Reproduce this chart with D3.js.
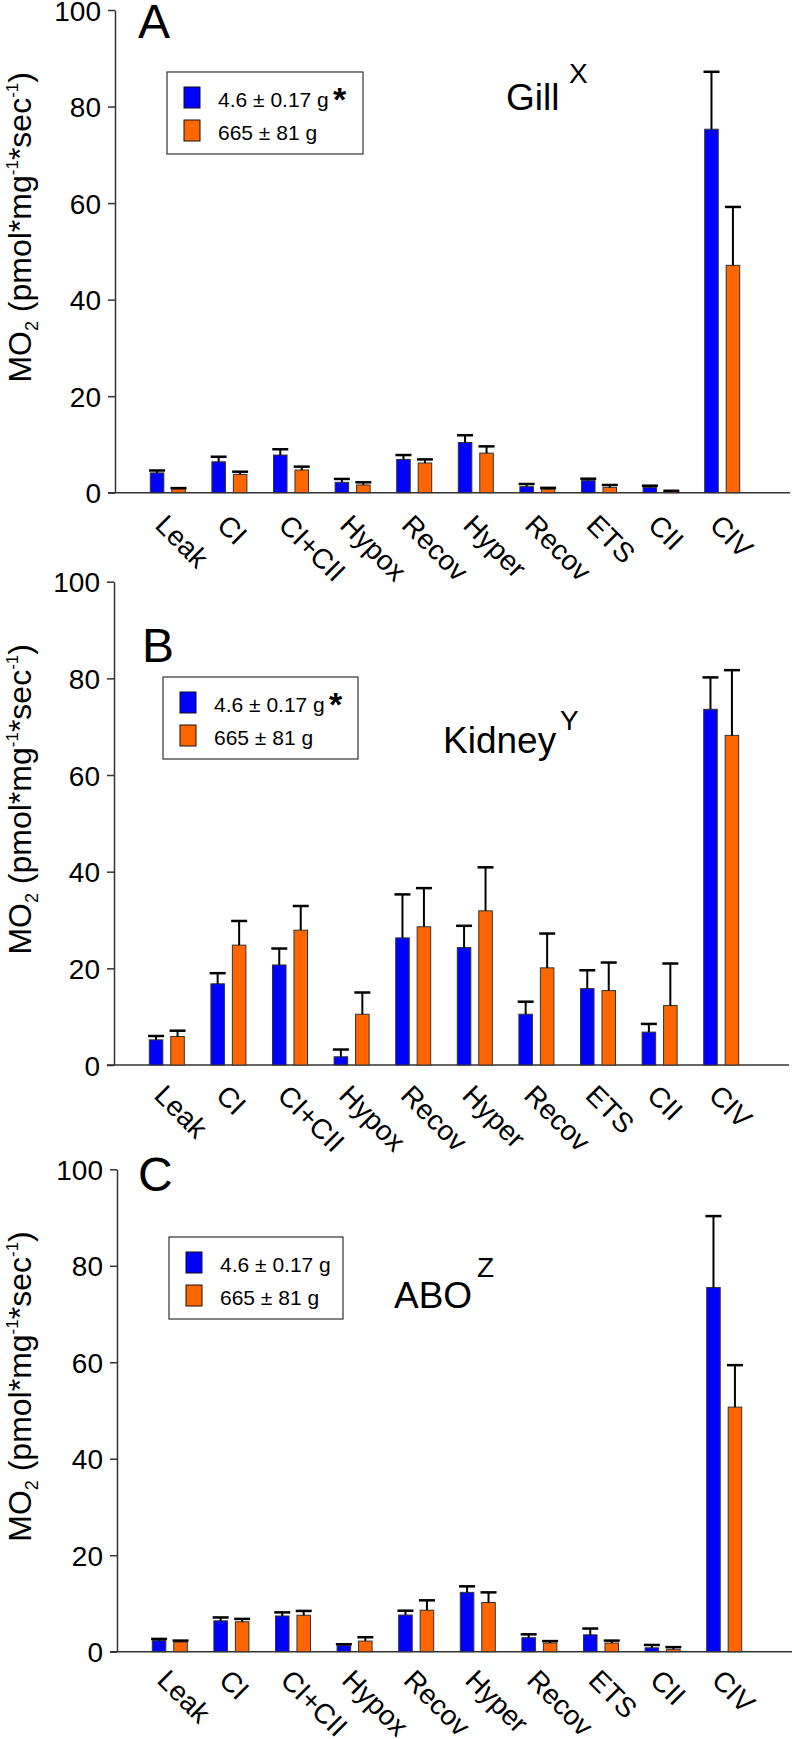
<!DOCTYPE html>
<html>
<head>
<meta charset="utf-8">
<script src="https://cdn.jsdelivr.net/npm/d3@7"></script>
<style>
  body { margin: 0; background: #fff; }
  text { font-family: "Liberation Sans", Arial, sans-serif; fill: #000; }
</style>
</head>
<body>
<div id="chart"></div>
<script>
/* data: mean and SEM for each state */
var categories = ["Leak", "CI", "CI+CII", "Hypox", "Recov", "Hyper", "Recov", "ETS", "CII", "CIV"];
var seriesNames = ["4.6 \u00b1 0.17 g", "665 \u00b1 81 g"];
var yTicks = [0, 20, 40, 60, 80, 100];

var gillSmall     = [4.1, 6.4, 7.8, 2.15, 6.9, 10.4, 1.25, 2.5, 1.1, 75.3];
var gillSmallErr  = [0.5, 1.05, 1.2, 0.7, 0.9, 1.5, 0.55, 0.4, 0.35, 11.9];
var gillLarge     = [0.8, 3.8, 4.7, 1.6, 6.15, 8.2, 0.7, 1.1, 0.3, 47.1];
var gillLargeErr  = [0.15, 0.55, 0.7, 0.55, 0.75, 1.4, 0.3, 0.5, 0.1, 12.1];

var kidneySmall    = [5.2, 16.8, 20.7, 1.7, 26.3, 24.3, 10.5, 15.8, 6.8, 73.6];
var kidneySmallErr = [0.8, 2.2, 3.4, 1.5, 9.0, 4.5, 2.6, 3.8, 1.7, 6.6];
var kidneyLarge    = [5.9, 24.8, 27.9, 10.5, 28.6, 31.9, 20.1, 15.4, 12.3, 68.2];
var kidneyLargeErr = [1.2, 5.0, 5.0, 4.5, 8.0, 9.0, 7.1, 5.8, 8.7, 13.5];

var aboSmall     = [2.3, 6.4, 7.4, 1.25, 7.6, 12.3, 2.9, 3.5, 0.8, 75.5];
var aboSmallErr  = [0.35, 0.7, 0.75, 0.3, 0.9, 1.25, 0.7, 1.3, 0.6, 14.8];
var aboLarge     = [2.0, 6.2, 7.55, 2.2, 8.6, 10.2, 1.8, 1.8, 0.5, 50.7];
var aboLargeErr  = [0.3, 0.6, 0.9, 0.8, 2.05, 2.1, 0.4, 0.5, 0.45, 8.7];

var colors = ["#0000ff", "#ff6600"];

/* layout of the three panels */
var panels = [
    { letter: "A", lx: 138, ly: 38, tissue: "Gill", sup: "X", tx: 506, ty: 110, sx: 569, sy: 83, star: true,
      y0: 492.7, y100: 10, dx: 0, labelDy: 34, box: [167, 72, 196],
      values: [gillSmall, gillLarge], errors: [gillSmallErr, gillLargeErr] },
    { letter: "B", lx: 142, ly: 662, tissue: "Kidney", sup: "Y", tx: 443, ty: 753, sx: 560, sy: 730, star: true,
      y0: 1065, y100: 581.7, dx: -1, labelDy: 32, box: [163, 677, 195],
      values: [kidneySmall, kidneyLarge], errors: [kidneySmallErr, kidneyLargeErr] },
    { letter: "C", lx: 138, ly: 1191, tissue: "ABO", sup: "Z", tx: 394, ty: 1308, sx: 477, sy: 1277, star: false,
      y0: 1651.7, y100: 1169.3, dx: 2, labelDy: 30, box: [169, 1237, 174],
      values: [aboSmall, aboLarge], errors: [aboSmallErr, aboLargeErr] }
];

var width = 793,
    height = 1739;

var svg = d3.select("#chart")
            .append("svg")
            .attr("width", width)
            .attr("height", height);

var drawPanel = function(p) {
    var g = svg.append("g")
               .attr("transform", "translate(" + p.dx + ",0)");

    var y = d3.scaleLinear().domain([0, 100]).range([p.y0, p.y100]);
    var x0 = d3.scaleBand().domain(d3.range(categories.length)).range([137, 753]);
    var x1 = d3.scaleBand().domain([0, 1]).range([-17.5, 17.5]).paddingInner(0.37);

    /* y axis */
    var yAxis = g.append("g")
                 .attr("transform", "translate(115,0)")
                 .call(d3.axisLeft(y).tickValues(yTicks).tickSize(7).tickSizeOuter(0).tickPadding(7));
    yAxis.select(".domain").attr("stroke", "#333").attr("stroke-width", 1.5);
    yAxis.selectAll(".tick line").attr("stroke", "#333").attr("stroke-width", 1.5);
    yAxis.selectAll(".tick text")
         .attr("font-size", 28)
         .attr("font-family", "'Liberation Sans', Arial, sans-serif")
         .attr("fill", "#000")
         .attr("dy", "0.36em");

    /* x axis line */
    g.append("line")
     .attr("x1", 108).attr("x2", 790)
     .attr("y1", y(0)).attr("y2", y(0))
     .attr("stroke", "#333")
     .attr("stroke-width", 1.5);

    /* category labels */
    g.selectAll(".xlabel")
     .data(categories)
     .enter().append("text")
        .attr("class", "xlabel")
        .attr("font-size", 28)
        .attr("transform", function(d, i) {
            return "translate(" + (x0(i) + x0.bandwidth() / 2 - 14) + "," + (y(0) + p.labelDy) + ") rotate(45)";
        })
        .text(function(d) { return d; });

    /* bars and error bars */
    p.values.forEach(function(vals, s) {
        var grp = g.append("g");
        grp.selectAll("rect")
           .data(vals)
           .enter().append("rect")
              .attr("x", function(d, i) { return x0(i) + x0.bandwidth() / 2 + x1(s); })
              .attr("y", function(d) { return y(d); })
              .attr("width", x1.bandwidth())
              .attr("height", function(d) { return y(0) - y(d); })
              .attr("fill", colors[s])
              .attr("stroke", "#333")
              .attr("stroke-width", 1);

        var cx = function(i) { return x0(i) + x0.bandwidth() / 2 + x1(s) + x1.bandwidth() / 2; };

        grp.selectAll(".stem")
           .data(vals)
           .enter().append("line")
              .attr("x1", function(d, i) { return cx(i); })
              .attr("x2", function(d, i) { return cx(i); })
              .attr("y1", function(d) { return y(d); })
              .attr("y2", function(d, i) { return y(d + p.errors[s][i]); })
              .attr("stroke", "#000")
              .attr("stroke-width", 2);

        grp.selectAll(".cap")
           .data(vals)
           .enter().append("line")
              .attr("x1", function(d, i) { return cx(i) - 8; })
              .attr("x2", function(d, i) { return cx(i) + 8; })
              .attr("y1", function(d, i) { return y(d + p.errors[s][i]); })
              .attr("y2", function(d, i) { return y(d + p.errors[s][i]); })
              .attr("stroke", "#000")
              .attr("stroke-width", 2.5);
    });

    /* y axis title */
    var mid = (p.y0 + p.y100) / 2 - 24;
    var title = svg.append("text")
                   .attr("transform", "translate(31," + mid + ") rotate(-90)")
                   .attr("text-anchor", "middle")
                   .attr("font-size", 32);
    title.append("tspan").text("MO");
    title.append("tspan").attr("font-size", 18).attr("dy", 7).text("2");
    title.append("tspan").attr("dy", -7).text(" (pmol*mg");
    title.append("tspan").attr("font-size", 17).attr("dy", -13).text("-1");
    title.append("tspan").attr("dy", 13).text("*sec");
    title.append("tspan").attr("font-size", 17).attr("dy", -13).text("-1");
    title.append("tspan").attr("dy", 13).text(")");

    /* panel letter and tissue */
    svg.append("text")
       .attr("x", p.lx).attr("y", p.ly)
       .attr("font-size", 48)
       .text(p.letter);

    svg.append("text")
       .attr("x", p.tx).attr("y", p.ty)
       .attr("font-size", 37)
       .text(p.tissue);

    svg.append("text")
       .attr("x", p.sx).attr("y", p.sy)
       .attr("font-size", 28)
       .text(p.sup);

    /* legend */
    var lg = svg.append("g")
                .attr("transform", "translate(" + p.box[0] + "," + p.box[1] + ")");
    lg.append("rect")
      .attr("width", p.box[2]).attr("height", 82)
      .attr("fill", "#fff")
      .attr("stroke", "#333")
      .attr("stroke-width", 1.2);

    var item = lg.selectAll(".item")
                 .data(seriesNames)
                 .enter().append("g")
                    .attr("transform", function(d, i) { return "translate(0," + (i * 33) + ")"; });
    item.append("rect")
        .attr("x", 17).attr("y", 15)
        .attr("width", 16).attr("height", 21)
        .attr("fill", function(d, i) { return colors[i]; })
        .attr("stroke", "#111")
        .attr("stroke-width", 1);
    item.append("text")
        .attr("x", 51).attr("y", 35)
        .attr("font-size", 21)
        .text(function(d) { return d; });

    if (p.star) {
        lg.append("text")
          .attr("x", 166).attr("y", 39)
          .attr("font-size", 34)
          .attr("font-weight", "bold")
          .text("*");
    }
};

panels.forEach(drawPanel);
</script>
</body>
</html>
